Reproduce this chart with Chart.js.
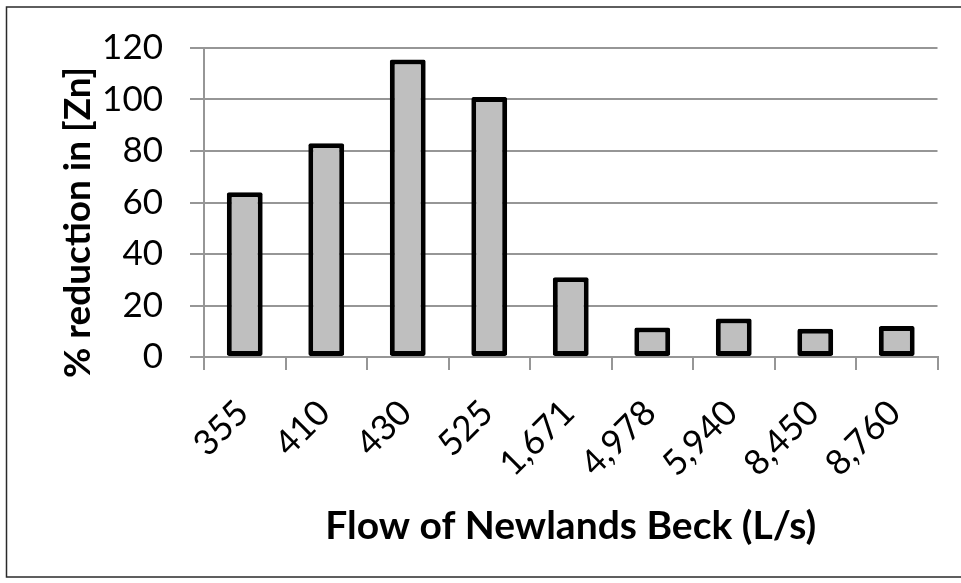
<!DOCTYPE html>
<html>
<head>
<meta charset="utf-8">
<script src="https://cdn.jsdelivr.net/npm/chart.js@4/dist/chart.umd.min.js"></script>
<style>
  html, body { margin: 0; padding: 0; background: #ffffff; }
  #wrap { width: 961px; height: 583px; position: relative; }
</style>
</head>
<body>
<div id="wrap"><canvas id="c" width="961" height="583"></canvas></div>
<script>
// Flow of Newlands Beck (L/s) and the % reduction in zinc at each flow
const flowLabels = ['355', '410', '430', '525', '1,671', '4,978', '5,940', '8,450', '8,760'];
const znReduction = [64, 83, 115.5, 101, 31, 11.5, 15, 11, 12];
const yTicks = [0, 20, 40, 60, 80, 100, 120];
const yTitle = '% reduction in [Zn]';

const FONT = 'Lato, "Open Sans", sans-serif';
const GRID = '#969696';

// Outer frame and the vertical axis title (set a little below the axis centre)
const framePlugin = {
  id: 'frame',
  afterDraw(chart) {
    const ctx = chart.ctx;
    ctx.save();
    ctx.strokeStyle = '#2a2a2a';
    ctx.lineWidth = 1.5;
    ctx.strokeRect(6.5, 7, 1000, 570);

    const area = chart.chartArea;
    ctx.translate(78, (area.top + area.bottom) / 2 + 20);
    ctx.rotate(-Math.PI / 2);
    ctx.fillStyle = '#000000';
    ctx.font = 'bold 37px ' + FONT;
    ctx.textAlign = 'center';
    ctx.textBaseline = 'middle';
    ctx.fillText(yTitle, 0, 0);
    ctx.restore();
  }
};

new Chart(document.getElementById('c'), {
  type: 'bar',
  data: {
    labels: flowLabels,
    datasets: [{
      data: znReduction,
      backgroundColor: '#bfbfbf',
      borderColor: '#000000',
      borderWidth: 5,
      borderRadius: 2,
      borderSkipped: false,
      barPercentage: 0.44,
      categoryPercentage: 1.0
    }]
  },
  options: {
    responsive: false,
    animation: false,
    devicePixelRatio: 1,
    layout: { padding: { top: 46, right: 23.5, left: 0, bottom: 0 } },
    plugins: {
      legend: { display: false },
      tooltip: { enabled: false }
    },
    scales: {
      x: {
        afterFit(scale) { scale.height = 226; },
        grid: { drawOnChartArea: false, drawTicks: true, tickLength: 13, color: GRID, lineWidth: 2 },
        border: { color: GRID, width: 2 },
        ticks: {
          autoSkip: false,
          minRotation: 45,
          maxRotation: 45,
          padding: 22,
          labelOffset: -2,
          color: '#000000',
          font: { family: FONT, size: 35 }
        },
        title: {
          display: true,
          text: 'Flow of Newlands Beck (L/s)',
          color: '#000000',
          font: { family: FONT, size: 39, weight: 'bold' },
          padding: { top: 0, bottom: 33 }
        }
      },
      y: {
        min: 0,
        max: 120,
        afterFit(scale) { scale.width = 204; },
        afterBuildTicks(scale) { scale.ticks = yTicks.map(v => ({ value: v })); },
        grid: { color: GRID, lineWidth: 2, tickLength: 14 },
        border: { color: GRID, width: 2 },
        ticks: {
          padding: 27,
          color: '#000000',
          font: { family: FONT, size: 35 }
        },
        title: { display: false }
      }
    }
  },
  plugins: [framePlugin]
});
</script>
</body>
</html>
